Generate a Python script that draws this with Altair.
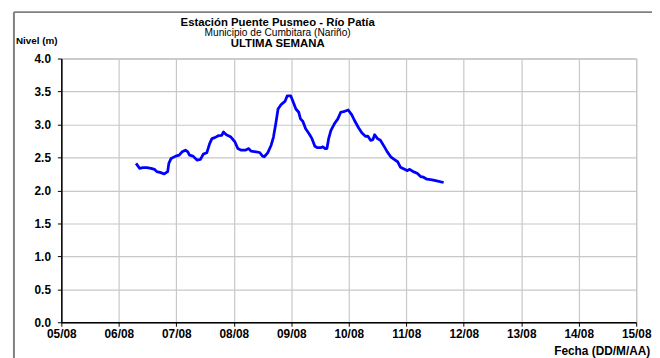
import altair as alt
import pandas as pd

# Days since 05/08 00:00 and river level (m)
dias = [1.30, 1.36, 1.42, 1.49, 1.56, 1.62, 1.66, 1.73, 1.79, 1.85, 1.87, 1.91, 1.99,
        2.05, 2.10, 2.16, 2.20, 2.23, 2.29, 2.36, 2.42, 2.47, 2.53, 2.58, 2.62, 2.67,
        2.73, 2.79, 2.82, 2.87, 2.95, 3.02, 3.07, 3.13, 3.20, 3.26, 3.30, 3.39, 3.45,
        3.50, 3.53, 3.59, 3.65, 3.69, 3.73, 3.77, 3.82, 3.89, 3.93, 3.99, 4.03, 4.08,
        4.13, 4.16, 4.20, 4.25, 4.31, 4.36, 4.41, 4.45, 4.52, 4.55, 4.59, 4.62, 4.65,
        4.69, 4.75, 4.81, 4.86, 4.93, 4.99, 5.05, 5.10, 5.17, 5.23, 5.29, 5.33, 5.38,
        5.42, 5.45, 5.50, 5.55, 5.62, 5.67, 5.73, 5.79, 5.85, 5.90, 5.97, 6.02, 6.06,
        6.12, 6.19, 6.25, 6.30, 6.36, 6.45, 6.53, 6.65]
nivel = [2.41, 2.335, 2.345, 2.345, 2.335, 2.32, 2.285, 2.27, 2.25, 2.285, 2.41, 2.485, 2.52,
         2.535, 2.585, 2.61, 2.585, 2.535, 2.52, 2.46, 2.47, 2.55, 2.57, 2.71, 2.785, 2.80,
         2.83, 2.835, 2.885, 2.845, 2.81, 2.735, 2.635, 2.61, 2.61, 2.635, 2.595, 2.585, 2.575,
         2.52, 2.51, 2.57, 2.685, 2.81, 3.01, 3.235, 3.30, 3.35, 3.435, 3.435, 3.35, 3.235,
         3.185, 3.085, 3.05, 2.935, 2.86, 2.785, 2.67, 2.65, 2.65, 2.66, 2.635, 2.635, 2.785,
         2.91, 3.01, 3.085, 3.185, 3.20, 3.22, 3.15, 3.06, 2.95, 2.87, 2.82, 2.825, 2.76,
         2.77, 2.845, 2.785, 2.76, 2.66, 2.585, 2.51, 2.47, 2.435, 2.35, 2.32, 2.30, 2.32,
         2.285, 2.26, 2.21, 2.20, 2.17, 2.16, 2.145, 2.12]

etiquetas_fecha = ["05/08", "06/08", "07/08", "08/08", "09/08", "10/08",
                   "11/08", "12/08", "13/08", "14/08", "15/08"]
valores_y = [0.0, 0.5, 1.0, 1.5, 2.0, 2.5, 3.0, 3.5, 4.0]

titulo_1 = "Estación Puente Pusmeo - Río Patía"
titulo_2 = "Municipio de Cumbitara (Nariño)"
titulo_3 = "ULTIMA SEMANA"
titulo_y = "Nivel (m)"
titulo_x = "Fecha (DD/M/AA)"

FONT = "Liberation Sans"
W, H = 582, 267

df = pd.DataFrame({"dia": dias, "nivel": nivel})
one = pd.DataFrame({"a": [0]})

label_expr = "[" + ",".join(f"'{e}'" for e in etiquetas_fecha) + "][round(datum.value)]"

linea = alt.Chart(df).mark_line(color="#0000FF", strokeWidth=2.8, strokeJoin="round").encode(
    x=alt.X("dia:Q",
            scale=alt.Scale(domain=[0, 10], nice=False, zero=False),
            axis=alt.Axis(values=list(range(11)), labelExpr=label_expr, title=None,
                          grid=True, gridColor="#c8c8c8", gridWidth=1.2,
                          domainColor="#000000", domainWidth=1.5,
                          tickColor="#000000", tickSize=4, tickWidth=1,
                          labelFont=FONT, labelFontSize=12, labelFontWeight="bold",
                          labelColor="#000000", labelPadding=2, labelFlush=False,
                          labelOverlap=False)),
    y=alt.Y("nivel:Q",
            scale=alt.Scale(domain=[0, 4], nice=False, zero=True),
            axis=alt.Axis(values=valores_y, format=".1f", title=None,
                          grid=True, gridColor="#c8c8c8", gridWidth=1.2,
                          domainColor="#000000", domainWidth=1.5,
                          tickColor="#000000", tickSize=4, tickWidth=1,
                          labelFont=FONT, labelFontSize=12, labelFontWeight="bold",
                          labelColor="#000000", labelPadding=7)),
)

def texto(t, x, y, size, weight="bold", align="center"):
    return alt.Chart(pd.DataFrame({"t": [t]})).mark_text(
        font=FONT, fontSize=size, fontWeight=weight, align=align,
        baseline="alphabetic", color="#000000"
    ).encode(text="t:N", x=alt.value(x), y=alt.value(y))

t1 = texto(titulo_1, 219, -33, 11.5)
t2 = texto(titulo_2, 219, -23, 10.3, weight="normal")
t3 = texto(titulo_3, 219, -11.5, 11.5)
ty = texto(titulo_y, -46, -15, 10, align="left")
tx = texto(titulo_x, 499, 300, 12, align="left")

marco_v = alt.Chart(one).mark_rule(color="#808080", strokeWidth=2).encode(
    x=alt.value(-48), y=alt.value(-47), y2=alt.value(H + 60))
marco_h = alt.Chart(one).mark_rule(color="#808080", strokeWidth=2).encode(
    x=alt.value(-48), x2=alt.value(W + 120), y=alt.value(-47))

chart = alt.layer(marco_v, marco_h, linea, t1, t2, t3, ty, tx).properties(
    width=W, height=H,
    padding={"left": 54, "top": 49, "right": 16, "bottom": 34},
    autosize=alt.AutoSizeParams(type="none"),
    background="#ffffff",
).configure_view(stroke="#a0a0a0", strokeWidth=1)

chart.save("out.html", embed_options={"renderer": "svg", "actions": False})
